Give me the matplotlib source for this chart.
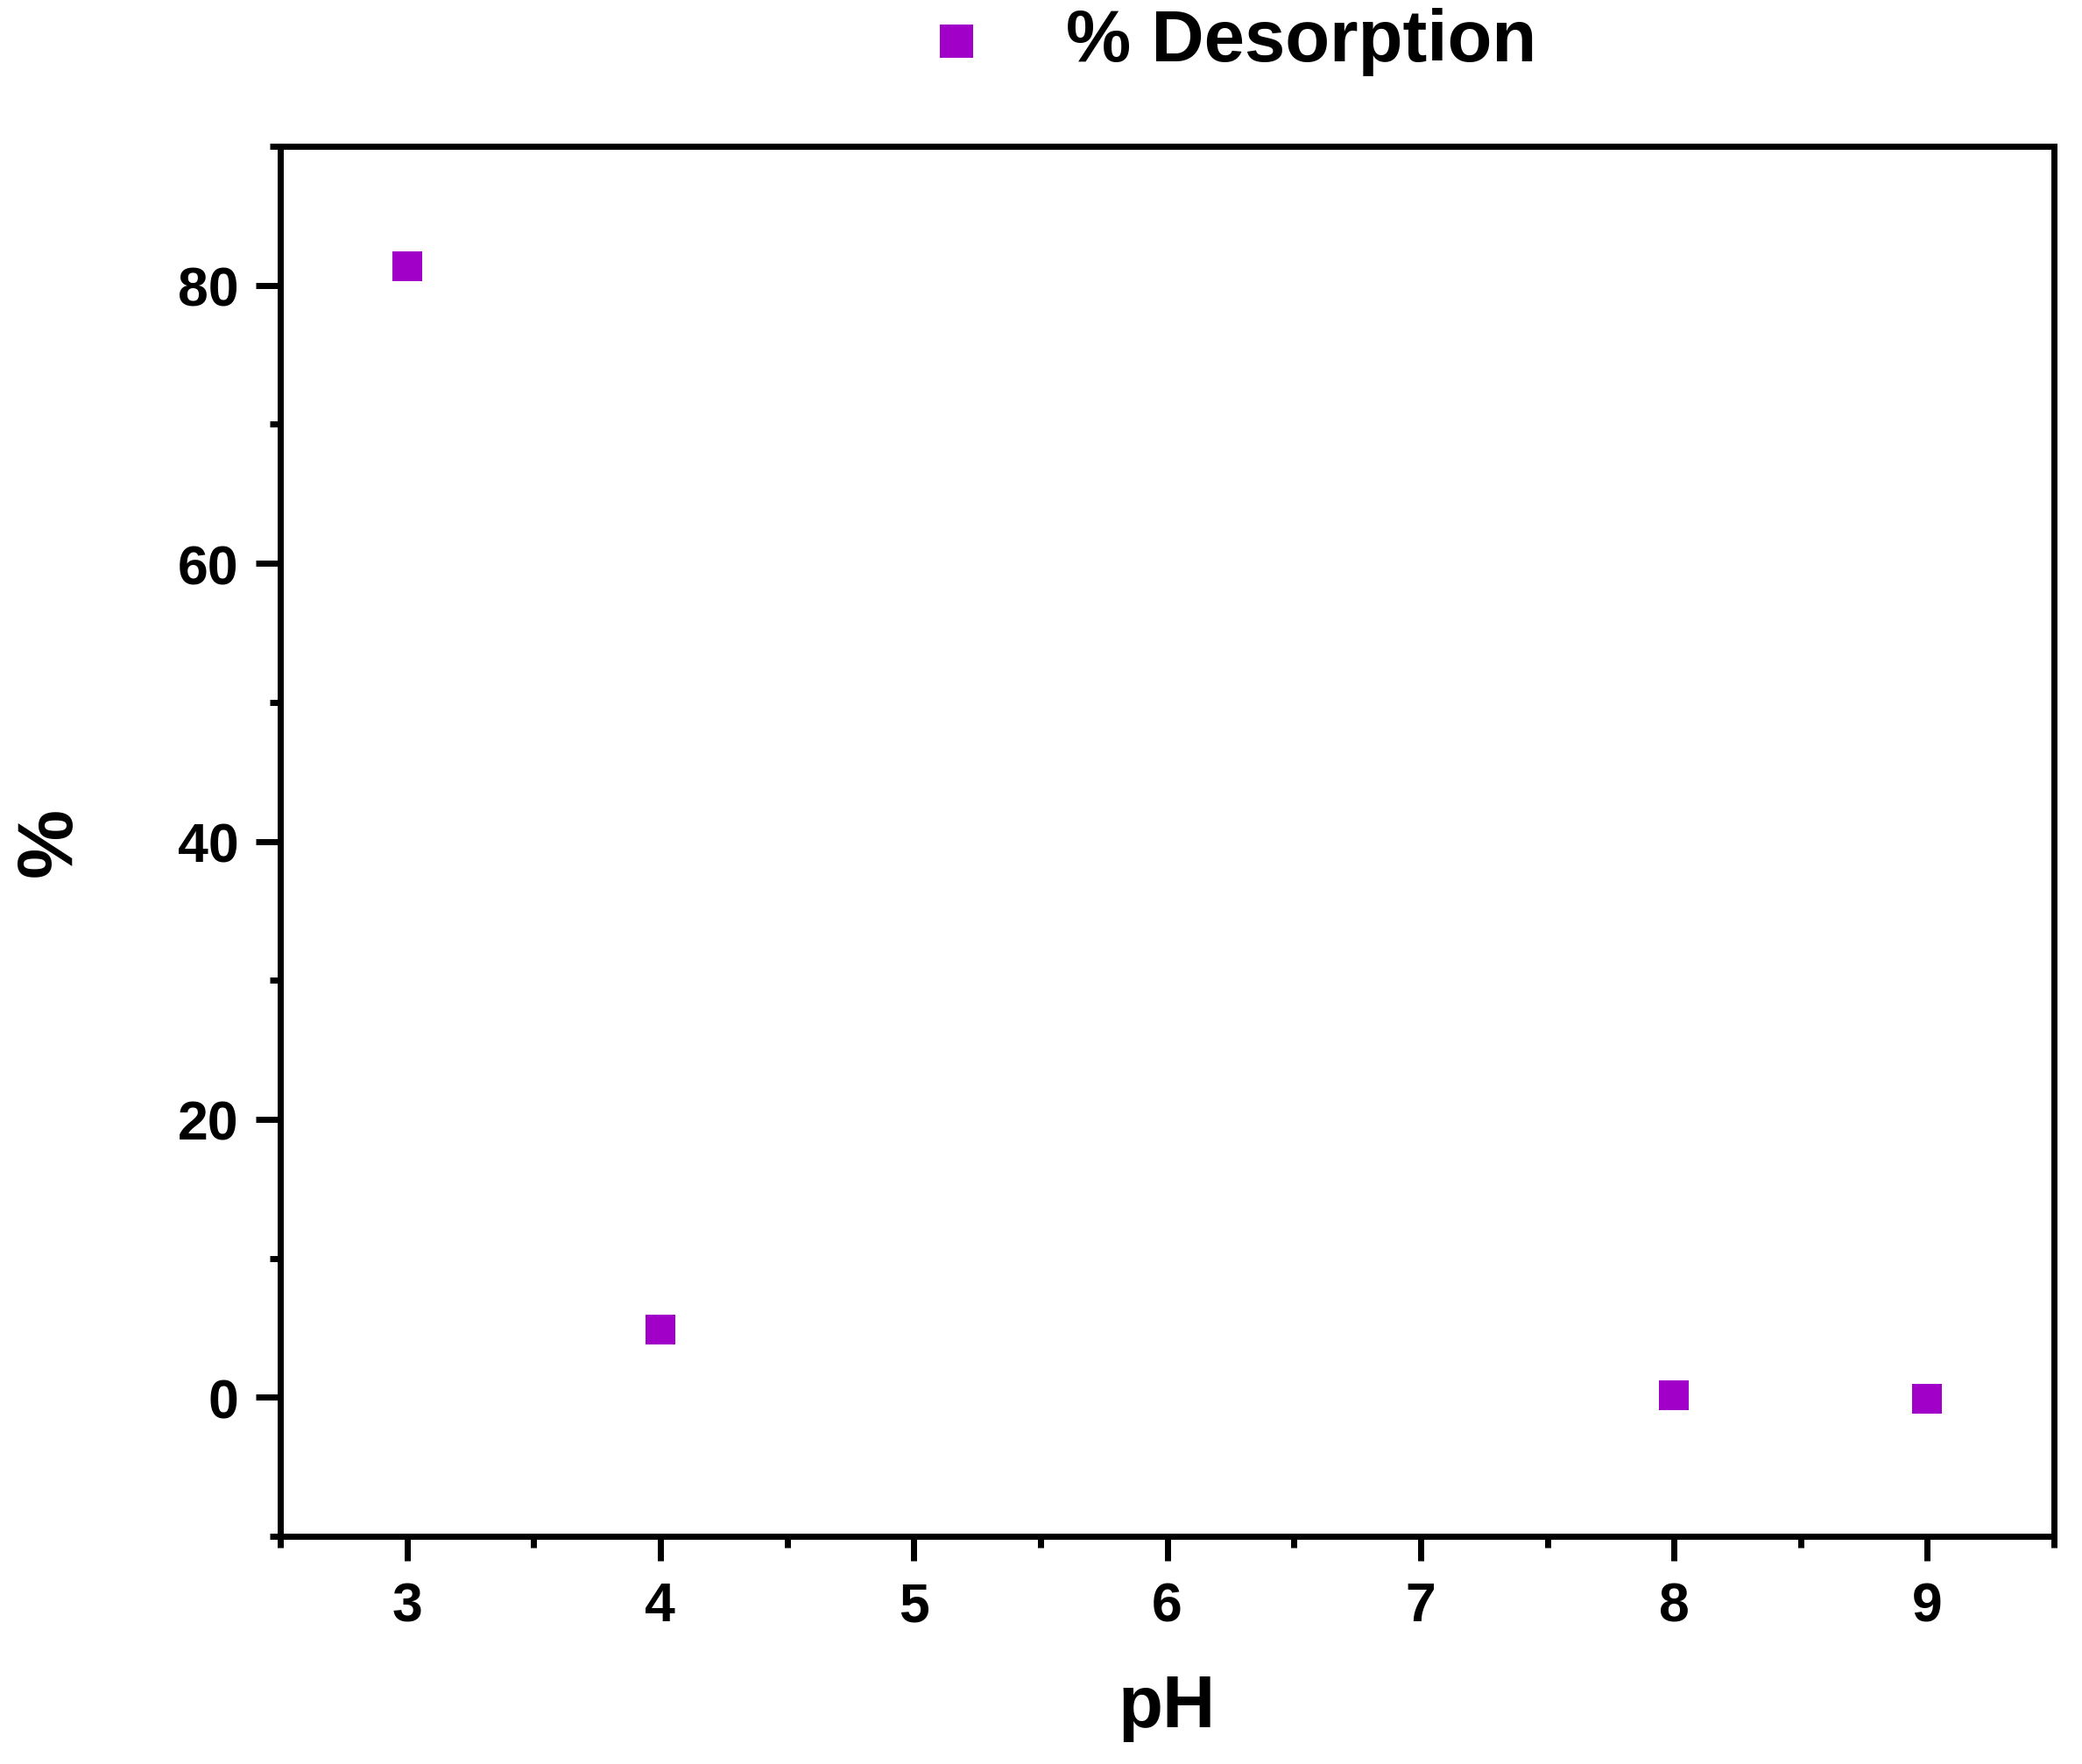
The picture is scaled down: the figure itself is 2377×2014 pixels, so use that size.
import matplotlib
matplotlib.use("Agg")
import matplotlib.pyplot as plt
from matplotlib.ticker import MultipleLocator

# desorption vs pH
ph = [3, 4, 8, 9]
desorption = [81.4, 4.85, 0.13, -0.1]

plt.rcParams['font.family'] = ['Liberation Sans', 'DejaVu Sans']
plt.rcParams['font.weight'] = 'bold'

fig = plt.figure(figsize=(23.77, 20.15), dpi=100)
ax = fig.add_axes([0.1346, 0.129, 0.852, 0.7876])

ax.scatter(ph, desorption, marker='s', s=25**2, color='#A000C8',
           linewidths=0, label='% Desorption', zorder=3)

ax.set_xlim(2.5, 9.5)
ax.set_ylim(-10, 90)
ax.xaxis.set_minor_locator(MultipleLocator(0.5))
ax.yaxis.set_minor_locator(MultipleLocator(10))
ax.set_xticks([3, 4, 5, 6, 7, 8, 9])
ax.set_yticks([0, 20, 40, 60, 80])

for sp in ax.spines.values():
    sp.set_linewidth(5)

ax.tick_params(which='major', direction='out', length=20, width=5,
               labelsize=45, top=False, right=False)
ax.tick_params(which='minor', direction='out', length=9, width=5,
               top=False, right=False)
ax.tick_params(axis='x', which='major', pad=16)
ax.tick_params(axis='y', which='major', pad=14)
for lab in ax.get_xticklabels() + ax.get_yticklabels():
    lab.set_fontweight('bold')

ax.set_xlabel('pH', fontsize=60, fontweight='bold', labelpad=34)
ax.set_ylabel('%', fontsize=64, fontweight='bold', labelpad=74)

fig.legend(loc='center', bbox_to_anchor=(0.581, 0.976), frameon=False,
           handletextpad=0.5, markerscale=1.12,
           prop={'weight': 'bold', 'size': 60})

fig.savefig('out.png', dpi=100)
